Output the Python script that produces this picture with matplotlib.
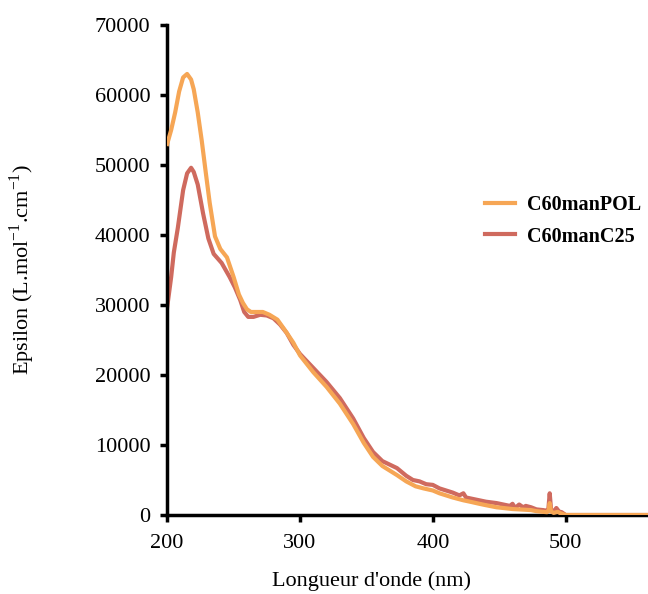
import matplotlib
matplotlib.use("Agg")
import matplotlib.pyplot as plt

plt.rcParams['font.family'] = ['Liberation Serif', 'DejaVu Serif']
plt.rcParams['mathtext.fontset'] = 'custom'
plt.rcParams['mathtext.rm'] = 'Liberation Serif'

# wavelengths (nm) and epsilon values
wl_pol = [200, 203, 206, 209, 212, 215, 218, 220, 223, 226, 229, 232, 236, 240, 245,
          250, 254, 257, 260, 263, 268, 272, 277, 283, 289, 295, 300, 310, 320, 330,
          340, 348, 355, 362, 373, 380, 387, 393, 400, 405, 410, 415, 423, 428, 435,
          440, 448, 453, 460, 465, 474, 478, 483, 486, 487, 488, 489, 491, 494, 496,
          500, 530, 562]
eps_pol = [53000, 55000, 57500, 60500, 62500, 63000, 62200, 60800, 57500, 53500,
           49000, 44600, 39800, 38000, 36800, 34000, 31500, 30300, 29400, 29000, 29000,
           29000, 28600, 27900, 26300, 24600, 22800, 20400, 18300, 15900, 13000, 10300,
           8300, 7000, 5700, 4800, 4100, 3800, 3500, 3100, 2800, 2500, 2100, 1900, 1600,
           1400, 1100, 1000, 850, 800, 700, 550, 450, 400, 600, 1700, 500, 300, 450, 250,
           0, 0, 0]

wl_c25 = [200, 203, 205, 208, 212, 215, 218, 220, 223, 227, 231, 235, 241, 247, 251,
          255, 258, 261, 265, 270, 275, 280, 285, 290, 295, 300, 310, 320, 330, 340,
          348, 355, 362, 373, 380, 385, 390, 395, 400, 405, 410, 415, 420, 423, 425,
          430, 435, 440, 448, 453, 458, 460, 462, 465, 468, 470, 474, 478, 483, 486,
          487, 488, 489, 491, 493, 495, 497, 500, 530, 562]
eps_c25 = [29700, 34000, 37500, 41000, 46400, 48800, 49600, 49000, 47200, 43100,
           39500, 37300, 36000, 34000, 32500, 30700, 29000, 28300, 28300, 28600, 28500,
           28100, 27200, 26000, 24300, 23000, 21000, 19000, 16700, 13800, 11000, 9000,
           7700, 6700, 5600, 5000, 4800, 4400, 4300, 3800, 3500, 3200, 2800, 3100, 2500,
           2300, 2100, 1900, 1700, 1500, 1300, 1600, 1000, 1500, 1100, 1300, 1100, 800,
           700, 600, 900, 3100, 800, 500, 1000, 500, 400, 0, 0, 0]

c_pol = '#F6A655'
c_c25 = '#CF6A5E'

fig = plt.figure(figsize=(6.48, 5.94), dpi=100)
ax = fig.add_axes([0.258, 0.133, 0.742, 0.825])

ax.plot(wl_c25, eps_c25, color=c_c25, lw=3, label='C60manC25', zorder=2)
ax.plot(wl_pol, eps_pol, color=c_pol, lw=3, label='C60manPOL', zorder=3)

ax.set_xlim(200, 562)
ax.set_ylim(0, 70000)
ax.set_xticks([200, 300, 400, 500])
ax.set_yticks(range(0, 70001, 10000))

for s in ['top', 'right']:
    ax.spines[s].set_visible(False)
for s in ['left', 'bottom']:
    ax.spines[s].set_linewidth(2.5)
ax.tick_params(width=2.5, length=5, labelsize=16, direction='out')
ax.tick_params(axis='x', pad=9)
ax.tick_params(axis='y', pad=7)

ax.set_xlabel("Longueur d'onde (nm)", fontsize=16)
ax.xaxis.set_label_coords(0.424, -0.115)
ax.set_ylabel(r'Epsilon (L.mol$^{\mathregular{-1}}$.cm$^{\mathregular{-1}}$)', fontsize=16)
ax.yaxis.set_label_coords(-0.27, 0.5)

h, l = ax.get_legend_handles_labels()
ax.legend(h[::-1], l[::-1], loc='center left', bbox_to_anchor=(0.72, 0.628),
          bbox_transform=fig.transFigure, frameon=False,
          prop={'weight': 'bold', 'size': 14.5}, handlelength=1.5, handletextpad=0.6,
          labelspacing=0.55)

fig.savefig('out.png', dpi=100)
